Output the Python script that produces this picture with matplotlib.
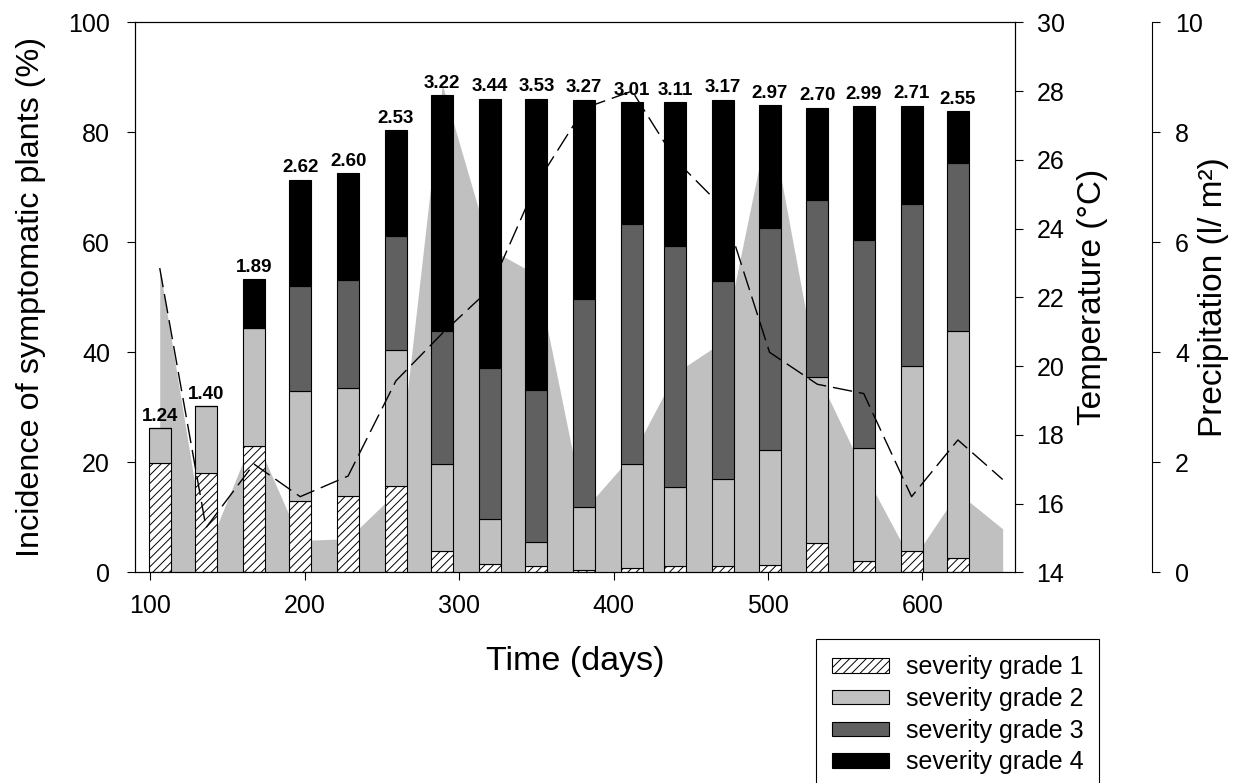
import matplotlib
matplotlib.use("Agg")
import matplotlib.pyplot as plt
from matplotlib.patches import Patch

plt.rcParams['font.family'] = ['Liberation Sans', 'DejaVu Sans']
plt.rcParams['hatch.linewidth'] = 0.7

# sampling days of the disease assessment
days = [106, 136, 167, 197, 228, 259, 289, 320, 350, 381, 412, 440, 471, 501, 532, 562, 593, 623]

# share of plants (%) in each severity grade
grade1 = [19.9, 18.0, 22.9, 13.0, 13.9, 15.7, 3.9, 1.5, 1.1, 0.5, 0.8, 1.1, 1.1, 1.4, 5.4, 2.0, 3.8, 2.6]
grade2 = [6.3, 12.2, 21.6, 20.0, 19.7, 24.8, 15.7, 8.1, 4.4, 11.3, 18.8, 14.4, 15.9, 20.9, 30.2, 20.6, 33.7, 41.3]
grade3 = [0, 0, 0, 19.1, 19.6, 20.6, 24.2, 27.6, 27.6, 37.9, 43.8, 43.9, 35.9, 40.3, 32.1, 37.8, 29.4, 30.5]
grade4 = [0, 0, 8.8, 19.3, 19.4, 19.3, 42.9, 48.9, 53.0, 36.2, 22.1, 26.1, 33.0, 22.3, 16.8, 24.3, 17.9, 9.4]

# mean severity index printed above each bar
mean_severity = ['1.24', '1.40', '1.89', '2.62', '2.60', '2.53', '3.22', '3.44', '3.53',
                 '3.27', '3.01', '3.11', '3.17', '2.97', '2.70', '2.99', '2.71', '2.55']

# weather data
weather_days = [106, 136, 167, 197, 228, 259, 289, 320, 350, 381, 412, 440, 471, 501, 532, 562, 593, 623, 652]
temperature = [22.85, 15.3, 17.15, 16.2, 16.8, 19.57, 20.95, 22.25, 25.3, 27.5, 28.0, 26.0, 24.6,
               20.4, 19.47, 19.2, 16.2, 17.85, 16.7]
precipitation = [5.53, 0.35, 2.5, 0.58, 0.61, 1.45, 8.87, 5.88, 5.41, 1.14, 2.13, 3.62, 4.2,
                 8.3, 3.6, 1.83, 0.2, 1.45, 0.79]

fig = plt.figure(figsize=(12.41, 7.83), dpi=100)
ax = fig.add_axes([0.1088, 0.2691, 0.7091, 0.7024])
ax_p = ax.twinx()
ax_t = ax.twinx()

# precipitation behind the bars, temperature on top
ax_p.set_zorder(0)
ax.set_zorder(1)
ax_t.set_zorder(2)
ax.patch.set_visible(False)

ax_p.fill_between(weather_days, precipitation, 0, color='#c0c0c0', lw=0)

width = 14.3
bottom = [0] * len(days)
styles = [
    (grade1, dict(facecolor='white', hatch='////')),
    (grade2, dict(facecolor='#c0c0c0')),
    (grade3, dict(facecolor='#606060')),
    (grade4, dict(facecolor='black')),
]
for values, st in styles:
    ax.bar(days, values, width, bottom=bottom, edgecolor='black', linewidth=0.8, **st)
    bottom = [b + v for b, v in zip(bottom, values)]

for d, total, lab in zip(days, bottom, mean_severity):
    ax.annotate(lab, (d, total), xytext=(0, 2.5), textcoords='offset points',
                ha='center', va='bottom', fontsize=13.5, fontweight='bold')

ax_t.plot(weather_days, temperature, color='black', lw=1.0, dashes=(14, 5))

ax.set_xlim(90, 660)
ax.set_ylim(0, 100)
ax.set_xticks([100, 200, 300, 400, 500, 600])
ax.set_yticks([0, 20, 40, 60, 80, 100])
ax_t.set_ylim(14, 30)
ax_t.set_yticks(range(14, 31, 2))
ax_p.set_ylim(0, 10)
ax_p.set_yticks(range(0, 11, 2))

ax_p.spines['right'].set_position(('axes', 1 + 137 / 880))
for s in ['left', 'top', 'bottom']:
    ax_p.spines[s].set_visible(False)

for a in (ax, ax_t, ax_p):
    a.tick_params(direction='out', length=6, width=0.8, labelsize=18)
    for s in a.spines.values():
        s.set_linewidth(0.8)
ax.tick_params(axis='y', pad=12)
ax.tick_params(axis='x', pad=9.5)
ax_t.tick_params(axis='y', pad=9.5)
ax_p.tick_params(axis='y', pad=10.5)

ax.set_xlabel('Time (days)', fontsize=24.5)
ax.set_ylabel('Incidence of symptomatic plants (%)', fontsize=23.3)
ax_t.set_ylabel('Temperature (°C)', fontsize=24)
ax_p.set_ylabel('Precipitation (l/ m²)', fontsize=24)
ax.xaxis.set_label_coords(0.5, -0.162)
ax.yaxis.set_label_coords(-0.118, 0.5)
ax_t.yaxis.set_label_coords(1.0875, 0.5)
ax_p.yaxis.set_label_coords(1.226, 0.5)
for lbl in (ax.xaxis.label, ax.yaxis.label, ax_t.yaxis.label, ax_p.yaxis.label):
    lbl.set_va('center')

handles = [Patch(facecolor='white', edgecolor='black', hatch='////', lw=0.8),
           Patch(facecolor='#c0c0c0', edgecolor='black', lw=0.8),
           Patch(facecolor='#606060', edgecolor='black', lw=0.8),
           Patch(facecolor='black', edgecolor='black', lw=0.8)]
leg = fig.legend(handles, ['severity grade 1', 'severity grade 2', 'severity grade 3', 'severity grade 4'],
                 loc='upper left', bbox_to_anchor=(816 / 1241, 1 - 639 / 783), fontsize=18,
                 frameon=True, fancybox=False, edgecolor='black', framealpha=1,
                 borderaxespad=0, borderpad=0.65, handlelength=2.28, handleheight=0.52,
                 handletextpad=0.65, labelspacing=0.31)
leg.get_frame().set_linewidth(0.8)

fig.savefig('out.png', dpi=100)
